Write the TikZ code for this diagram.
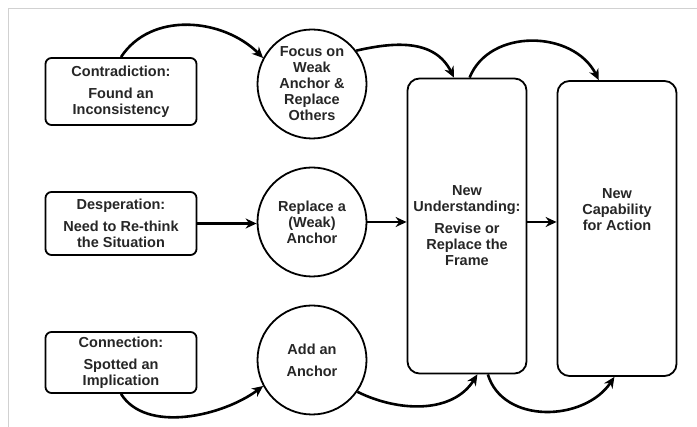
\documentclass[tikz,border=0pt]{standalone}
\usepackage{fontspec}
\setmainfont{Liberation Sans}
\usetikzlibrary{arrows.meta,calc}
\begin{document}
\begin{tikzpicture}[x=1pt,y=1pt,
  txt/.style={font=\fontsize{14.5}{16}\selectfont\bfseries, align=center, text=black!85},
  cause/.style={txt, draw=black, line width=1.8pt, rounded corners=6pt,
    minimum width=151pt, inner sep=0pt},
  anchorball/.style={txt, draw=black, line width=1.8pt, circle,
    minimum size=109pt, inner sep=0pt},
  tallbox/.style={txt, draw=black, line width=1.8pt, rounded corners=12pt,
    minimum width=119pt, minimum height=295pt, inner sep=0pt},
  flow/.style={line width=2.6pt, -{Stealth[length=11pt,width=10pt]}},
]
\useasboundingbox (0,0) rectangle (697,-427);
% light frame along the top and left edges
\draw[black!18, line width=1pt] (697,-9) -- (8,-9) -- (8,-427);

% triggers
\node[cause, minimum height=67pt] (b1) at (121,-91.5)
  {Contradiction:\\[6pt]Found an\\Inconsistency};
\node[cause, minimum height=63pt] (b2) at (121,-223.5)
  {Desperation:\\[6pt]Need to Re-think\\the Situation};
\node[cause, minimum height=61pt] (b3) at (121,-362.5)
  {Connection:\\[6pt]Spotted an\\Implication};

% anchor operations
\node[anchorball] (c1) at (312,-84)
  {Focus on\\Weak\\Anchor \&\\Replace\\Others};
\node[anchorball] (c2) at (312,-222)
  {Replace a\\(Weak)\\Anchor};
\node[anchorball] (c3) at (312,-360)
  {Add an\\[6pt]Anchor};

% outcomes
\node[tallbox] (tb1) at (467,-226)
  {New\\Understanding:\\[6pt]Revise or\\Replace the\\Frame};
\node[tallbox] (tb2) at (617,-228.5) {};
\node[txt] (tb2t) at (617,-210) {New\\Capability\\for Action};

% connectors
\draw[flow] (b1.north) .. controls ($(b1.north)+(30,46)$) and ($(c1.152)+(-40,40)$) .. (c1.152);
\draw[flow] (c1.37) .. controls ($(c1.37)+(35,8)$) and ($(tb1.95)+(-20,40)$) .. (tb1.95);
\draw[flow] (tb1.89) .. controls ($(tb1.89)+(20,50)$) and ($(tb2.97)+(-25,50)$) .. (tb2.97);

\draw[flow] (b2.east) -- (b2.east -| c2.west);
\draw[flow] (c2.east) -- (c2.east -| tb1.west);
\draw[flow] (c2.east -| tb1.east) -- (c2.east -| tb2.west);

\draw[flow] (b3.south) .. controls ($(b3.south)+(25,-40)$) and ($(c3.208)+(-40,-30)$) .. (c3.208);
\draw[flow] (c3.325) .. controls ($(c3.325)+(40,-20)$) and ($(tb1.274)+(-25,-40)$) .. (tb1.274);
\draw[flow] (tb1.278) .. controls ($(tb1.278)+(15,-50)$) and ($(tb2.269)+(-30,-45)$) .. (tb2.269);
\end{tikzpicture}
\end{document}
